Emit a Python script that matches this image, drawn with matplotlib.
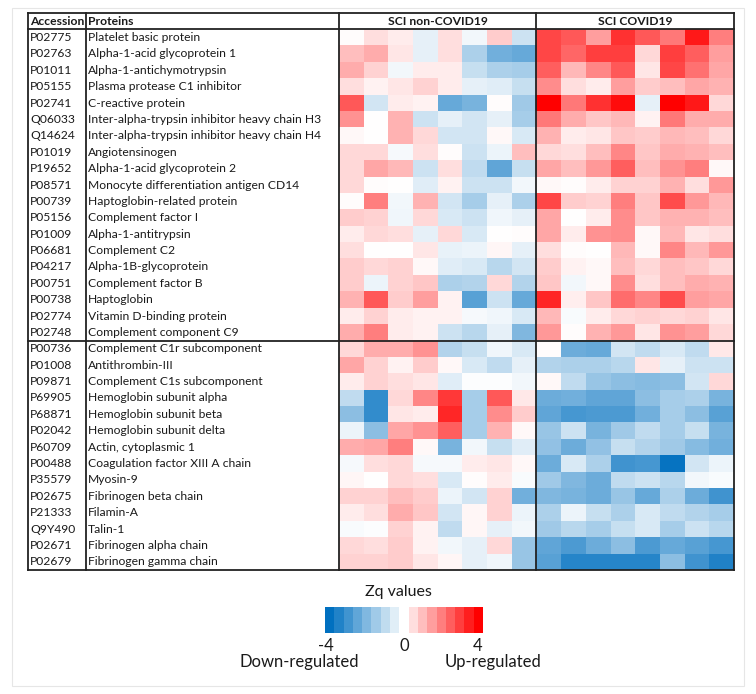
import numpy as np
import matplotlib
matplotlib.use("Agg")
import matplotlib.pyplot as plt
from matplotlib.colors import LinearSegmentedColormap, Normalize
from matplotlib.patches import Rectangle

plt.rcParams['font.family'] = ['Lato', 'DejaVu Sans']

accessions = ["P02775", "P02763", "P01011", "P05155", "P02741", "Q06033", "Q14624",
              "P01019", "P19652", "P08571", "P00739", "P05156", "P01009", "P06681",
              "P04217", "P00751", "P00738", "P02774", "P02748",
              "P00736", "P01008", "P09871", "P69905", "P68871", "P02042", "P60709",
              "P00488", "P35579", "P02675", "P21333", "Q9Y490", "P02671", "P02679"]
proteins = ["Platelet basic protein", "Alpha-1-acid glycoprotein 1", "Alpha-1-antichymotrypsin",
            "Plasma protease C1 inhibitor", "C-reactive protein",
            "Inter-alpha-trypsin inhibitor heavy chain H3",
            "Inter-alpha-trypsin inhibitor heavy chain H4", "Angiotensinogen",
            "Alpha-1-acid glycoprotein 2", "Monocyte differentiation antigen CD14",
            "Haptoglobin-related protein", "Complement factor I", "Alpha-1-antitrypsin",
            "Complement C2", "Alpha-1B-glycoprotein", "Complement factor B", "Haptoglobin",
            "Vitamin D-binding protein", "Complement component C9",
            "Complement C1r subcomponent", "Antithrombin-III", "Complement C1s subcomponent",
            "Hemoglobin subunit alpha", "Hemoglobin subunit beta", "Hemoglobin subunit delta",
            "Actin, cytoplasmic 1", "Coagulation factor XIII A chain", "Myosin-9",
            "Fibrinogen beta chain", "Filamin-A", "Talin-1", "Fibrinogen alpha chain",
            "Fibrinogen gamma chain"]
groups = ["SCI non-COVID19", "SCI COVID19"]

# Zq values, 8 samples per group
non_covid = [
    [0.05, 0.5, 0.3, -0.4, 0.5, -0.2, 0.8, -0.8],
    [1.0, 1.3, 0.4, -0.4, 0.5, -1.3, -2.2, -2.4],
    [1.3, 0.7, -0.2, 0.3, 0.3, -0.9, -1.3, -1.4],
    [0.5, 0.2, 0.4, 0.7, 0.3, -0.4, -0.5, -0.9],
    [2.6, -0.7, 0.3, 0.2, -2.4, -2.1, 0.05, -1.5],
    [1.7, 0.0, 1.2, -0.8, -0.4, -0.7, -0.4, -1.4],
    [0.1, 0.0, 1.2, 0.6, -0.7, -0.7, 0.1, -0.6],
    [0.6, 0.6, -0.15, 0.5, 0.05, -0.8, -0.3, 1.0],
    [0.6, 1.4, 1.1, -0.8, 0.5, -1.0, -2.5, -0.9],
    [0.6, 0.05, 0.0, -0.5, 0.2, -0.8, -0.8, -0.2],
    [0.05, 2.0, -0.2, 1.2, -0.7, -1.4, -0.4, -1.3],
    [0.8, 0.7, -0.25, 0.6, -0.6, -0.8, -0.25, -0.4],
    [0.3, 0.6, 0.5, -0.4, 0.6, -0.6, 0.0, 0.05],
    [0.5, 0.0, 0.0, 0.4, -0.35, -0.3, 0.15, -0.4],
    [0.8, 0.6, 0.7, 0.1, -0.5, -0.6, -1.1, -0.7],
    [0.8, -0.3, 0.7, 0.9, -1.3, -1.2, 0.6, -1.2],
    [1.2, 2.6, 0.8, 1.5, 0.2, -2.6, -0.8, -2.4],
    [0.3, 0.7, 0.3, 0.2, 0.2, -0.15, -0.25, -0.6],
    [1.3, 2.0, 0.3, 0.2, -0.8, -1.1, -0.4, -2.0],
    [0.6, 1.3, 1.3, 1.7, -1.2, -0.9, -0.25, -0.6],
    [1.4, 0.7, 0.2, 0.8, 0.1, -0.6, -1.0, -0.4],
    [0.3, 0.7, 0.5, 0.4, -0.5, -0.05, -0.05, -0.2],
    [-1.0, -3.2, 0.6, 1.9, 3.1, -1.4, 2.6, 0.35],
    [-1.8, -3.2, 0.4, 0.3, 3.4, -1.4, 1.8, 0.8],
    [-0.3, -1.8, 1.4, 1.7, 2.5, -1.4, 1.2, 0.1],
    [1.3, 1.4, 2.0, 0.1, -2.1, -0.2, -0.9, -0.5],
    [-0.15, 0.5, 0.6, -0.15, -0.15, 0.3, 0.4, 0.1],
    [0.15, 0.0, 0.6, 0.5, -0.6, 0.05, 0.3, -0.1],
    [0.7, 0.7, 1.0, 0.8, -0.3, -0.7, 0.7, -2.2],
    [0.3, 0.5, 1.3, 0.9, -0.7, 0.15, 0.7, -0.3],
    [-0.1, -0.05, 0.7, 0.2, -1.0, 0.15, -0.4, -0.2],
    [0.6, 0.5, 0.8, 0.2, -0.2, -0.4, 0.6, -1.6],
    [0.7, 0.7, 0.8, 0.4, 0.15, -0.4, -0.25, -1.6],
]
covid = [
    [2.9, 2.6, 1.5, 3.2, 2.6, 2.1, 3.6, 2.0],
    [2.9, 2.4, 3.0, 3.0, 0.6, 3.0, 2.5, 1.5],
    [2.5, 1.1, 1.9, 2.6, 0.4, 2.9, 2.2, 1.4],
    [1.8, 0.5, 0.3, 1.5, 0.8, 1.0, 1.4, 1.2],
    [4.0, 2.1, 3.2, 3.8, -0.4, 4.0, 3.6, 0.6],
    [2.1, 1.3, 0.9, 1.1, 0.2, 2.1, 1.3, 1.3],
    [1.2, 0.3, 0.4, 0.9, 0.8, 1.1, 1.0, 0.6],
    [0.6, 0.5, 1.0, 1.9, 0.9, 1.3, 1.2, 1.0],
    [1.4, 1.0, 1.6, 2.5, 1.0, 1.7, 2.0, 0.1],
    [0.1, 0.05, 0.3, 0.7, 0.7, 1.2, 0.5, 1.6],
    [2.9, 0.8, 0.7, 2.0, 0.9, 2.8, 1.6, 1.1],
    [1.4, 0.0, 0.3, 1.8, 0.9, 1.2, 1.2, 1.0],
    [1.4, 0.3, 1.7, 1.8, 0.1, 1.1, 0.4, 0.5],
    [0.5, 0.05, 0.0, 1.1, 0.1, 1.9, 1.1, 1.6],
    [0.8, 0.2, 0.1, 1.0, 0.6, 1.0, 0.9, 0.6],
    [0.9, -0.2, 0.1, 1.8, 0.5, 1.0, 1.3, 1.2],
    [3.4, 0.25, 0.9, 2.3, 1.9, 2.8, 1.5, 1.4],
    [1.1, -0.1, 0.3, 0.6, 0.7, 0.6, 0.7, 0.4],
    [1.6, 0.05, 1.2, 1.6, 0.4, 1.7, 1.5, 0.6],
    [0.05, -2.3, -2.4, -0.7, -1.0, -0.6, -1.0, 0.35],
    [-1.2, -1.3, -1.3, -1.1, 0.4, -0.4, -0.8, -0.8],
    [0.1, -1.0, -1.6, -1.8, -1.9, -1.8, -0.7, 0.6],
    [-2.3, -2.2, -2.5, -2.5, -1.8, -1.4, -1.3, -2.1],
    [-2.5, -2.9, -2.8, -2.8, -2.2, -1.4, -1.8, -2.6],
    [-1.6, -0.8, -2.1, -1.5, -1.0, -1.4, -0.9, -2.1],
    [-1.7, -2.3, -1.7, -0.9, -1.2, -1.5, -1.9, -2.2],
    [-2.3, -0.6, -1.3, -3.0, -2.9, -3.9, -0.7, -0.3],
    [-1.5, -2.0, -2.3, -1.0, -0.8, -1.1, -0.2, -0.1],
    [-2.0, -2.1, -2.3, -1.6, -2.4, -1.3, -2.3, -3.0],
    [-1.3, -0.3, -0.9, -1.3, -0.6, -1.0, -1.2, -1.4],
    [-1.5, -1.1, -1.4, -0.9, -0.6, -1.4, -0.8, -1.1],
    [-2.5, -2.8, -2.3, -1.8, -2.8, -2.4, -2.6, -2.9],
    [-2.6, -3.4, -3.4, -3.4, -3.4, -1.8, -3.0, -3.5],
]
n_up = 19  # first block: up-regulated in COVID19
legend_blue = [-4.0, -3.5, -3.0, -2.5, -2.0, -1.5, -1.0, -0.5]
legend_red = [0.5, 1.0, 1.5, 2.0, 2.5, 3.0, 3.5, 4.0]

cmap = LinearSegmentedColormap.from_list("zq", ["#0070C0", "#ffffff", "#FF0000"])
norm = Normalize(-4, 4)

W, H = 756, 694
fig = plt.figure(figsize=(W / 100, H / 100), dpi=100)

def px_axes(x0, y0, x1, y1):
    return fig.add_axes([x0 / W, 1 - y1 / H, (x1 - x0) / W, (y1 - y0) / H])

# faint frame around the picture
fig.patches.append(Rectangle((12 / W, 1 - 686 / H), 732 / W, 678 / H,
                             transform=fig.transFigure, fill=False,
                             edgecolor="#e6e6e6", linewidth=0.8))

# table axes: x in pixels, y in rows (header = -1)
x_left, x_acc, x_heat, x_mid, x_right = 28, 86, 339, 536, 734
ax = px_axes(x_left, 13, x_right, 570)
ax.set_xlim(x_left, x_right)
ax.set_ylim(len(accessions), -1)
ax.axis("off")

data = np.hstack([np.array(non_covid), np.array(covid)])
ax.imshow(data, cmap=cmap, norm=norm, aspect="auto", interpolation="nearest",
          extent=(x_heat, x_right, len(accessions), 0))

fs = 8.7
tc = "#1a1a1a"
for i, (acc, prot) in enumerate(zip(accessions, proteins)):
    ax.text(x_left + 2, i + 0.5, acc, fontsize=fs, va="center", ha="left", color=tc)
    ax.text(x_acc + 2, i + 0.5, prot, fontsize=fs, va="center", ha="left", color=tc)
ax.text(x_left + 2, -0.5, "Accession", fontsize=fs, va="center", ha="left", fontweight="bold", color=tc)
ax.text(x_acc + 2, -0.5, "Proteins", fontsize=fs, va="center", ha="left", fontweight="bold", color=tc)
ax.text((x_heat + x_mid) / 2, -0.5, groups[0], fontsize=fs, va="center", ha="center", fontweight="bold", color=tc)
ax.text((x_mid + x_right) / 2, -0.5, groups[1], fontsize=fs, va="center", ha="center", fontweight="bold", color=tc)

lw = 1.3
for xv in [x_left, x_acc, x_heat, x_mid, x_right]:
    ax.plot([xv, xv], [-1, len(accessions)], color="#222222", lw=lw, clip_on=False)
for yv in [-1, 0, n_up, len(accessions)]:
    ax.plot([x_left, x_right], [yv, yv], color="#222222", lw=lw, clip_on=False)

# legend colour bar
cax = px_axes(325, 607, 483, 633)
cax.set_xlim(0, 17)
cax.set_ylim(0, 1)
cax.axis("off")
cax.bar(np.arange(len(legend_blue)), 1, width=1, align="edge",
        color=cmap(norm(legend_blue)), linewidth=0, antialiased=False)
cax.bar(np.arange(len(legend_red)) + 9, 1, width=1, align="edge",
        color=cmap(norm(legend_red)), linewidth=0, antialiased=False)

lfs = 12
fig.text(398 / W, 1 - 592 / H, "Zq values", fontsize=11.5, ha="center", va="center", color=tc)
fig.text(326 / W, 1 - 646 / H, "-4", fontsize=lfs, ha="center", va="center", color=tc)
fig.text(404 / W, 1 - 646 / H, "0", fontsize=lfs, ha="center", va="center", color=tc)
fig.text(478 / W, 1 - 646 / H, "4", fontsize=lfs, ha="center", va="center", color=tc)
fig.text(299 / W, 1 - 662 / H, "Down-regulated", fontsize=lfs, ha="center", va="center", color=tc)
fig.text(493 / W, 1 - 662 / H, "Up-regulated", fontsize=lfs, ha="center", va="center", color=tc)

fig.savefig("out.png", dpi=100)
